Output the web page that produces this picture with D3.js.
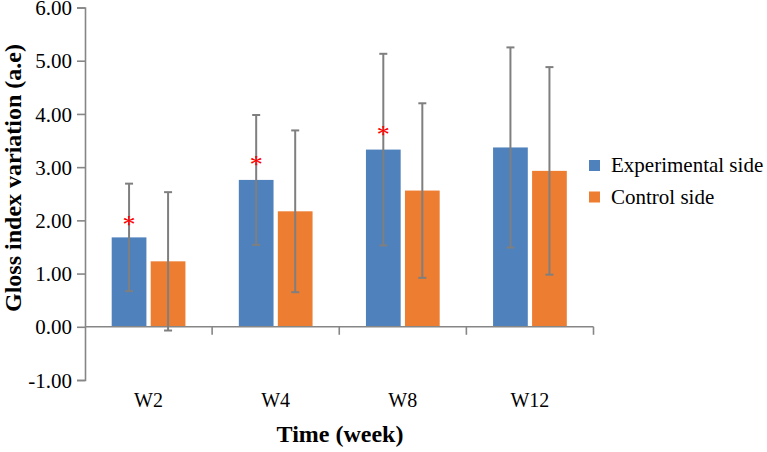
<!DOCTYPE html>
<html><head><meta charset="utf-8">
<script src="https://cdn.jsdelivr.net/npm/d3@7"></script>
<style>body{margin:0;background:#fff}svg{display:block}text{font-family:"Liberation Serif","Times New Roman",serif}</style>
</head><body>
<svg id="c" width="767" height="452"></svg>
<script>
const categories = ["W2","W4","W8","W12"];
const seriesNames = ["Experimental side","Control side"];
const experimental = [1.68, 2.76, 3.33, 3.37];
const experimentalErr = [1.01, 1.22, 1.80, 1.88];
const control = [1.23, 2.17, 2.56, 2.93];
const controlErr = [1.30, 1.52, 1.64, 1.95];
const significant = [true, true, true, false];
const starValues = [1.98, 3.12, 3.68, null];
const yTicks = [-1,0,1,2,3,4,5,6];
const colors = ["#4f81bd","#ed7d31"];

const svg = d3.select("#c");
const serif = "Liberation Serif, Times New Roman, serif";
const axisColor = "#868686";

const x0 = d3.scaleBand().domain(categories).range([85, 593.5]).paddingInner(0).paddingOuter(0);
const bw = x0.bandwidth();
const x1 = d3.scaleBand().domain(seriesNames).range([bw*0.21, bw*0.79]).paddingInner(0.11);
const y = d3.scaleLinear().domain([-1, 6]).range([380, 7.5]);

const data = categories.map((c,i)=>[
  {cat:c, s:seriesNames[0], v:experimental[i], e:experimentalErr[i], col:colors[0]},
  {cat:c, s:seriesNames[1], v:control[i], e:controlErr[i], col:colors[1]}
]).flat();

// bars
svg.append("g").selectAll("rect").data(data).join("rect")
  .attr("x", d=>x0(d.cat)+x1(d.s))
  .attr("y", d=>y(d.v))
  .attr("width", x1.bandwidth())
  .attr("height", d=>y(0)-y(d.v))
  .attr("fill", d=>d.col);

// y axis
const yAxis = d3.axisLeft(y).tickValues(yTicks).tickFormat(d=>d.toFixed(2)).tickSizeOuter(0).tickSize(8).tickPadding(5);
const gy = svg.append("g").attr("transform","translate(85,0)").call(yAxis);
gy.attr("font-family", null).attr("font-size", null);
gy.select(".domain").attr("stroke", axisColor).attr("stroke-width",1.6);
gy.selectAll(".tick line").attr("stroke", axisColor).attr("stroke-width",1.6);
gy.selectAll(".tick text").style("font-family", serif).style("font-size", "21px").attr("fill","#000").attr("dy","0.34em");

// x axis at zero
const bounds = categories.map(c=>x0(c)+bw);
const gx = svg.append("g");
gx.append("line").attr("x1",85).attr("x2",x0.range()[1]).attr("y1",y(0)).attr("y2",y(0))
  .attr("stroke",axisColor).attr("stroke-width",1.6);
gx.selectAll("line.t").data(bounds).join("line").attr("class","t")
  .attr("x1",d=>d).attr("x2",d=>d).attr("y1",y(0)).attr("y2",y(0)+8)
  .attr("stroke",axisColor).attr("stroke-width",1.6);

// error bars
const eg = svg.append("g").attr("stroke","#7f7f7f").attr("stroke-width",2);
data.forEach(d=>{
  const cx = x0(d.cat)+x1(d.s)+x1.bandwidth()/2;
  const t = y(d.v+d.e), b = y(d.v-d.e);
  eg.append("line").attr("x1",cx).attr("x2",cx).attr("y1",t).attr("y2",b);
  eg.append("line").attr("x1",cx-4).attr("x2",cx+4).attr("y1",t).attr("y2",t);
  eg.append("line").attr("x1",cx-4).attr("x2",cx+4).attr("y1",b).attr("y2",b);
});

// significance stars
categories.forEach((c,i)=>{
  if(!significant[i]) return;
  const cx = x0(c)+x1(seriesNames[0])+x1.bandwidth()/2;
  svg.append("text").attr("x",cx).attr("y",y(starValues[i])+12)
    .attr("text-anchor","middle").style("font-family",serif).style("font-size","26px")
    .attr("fill","#ff0000").text("*");
});

// category labels
svg.append("g").selectAll("text").data(categories).join("text")
  .attr("x", d=>x0(d)+bw/2).attr("y", 407).attr("text-anchor","middle")
  .style("font-family", serif).style("font-size","20px").attr("fill","#000").text(d=>d);

// axis titles
svg.append("text").attr("x",340).attr("y",442).attr("text-anchor","middle")
  .style("font-family",serif).style("font-size","24px").attr("font-weight","bold").text("Time (week)");
svg.append("text").attr("transform","translate(21,178) rotate(-90)").attr("text-anchor","middle")
  .style("font-family",serif).style("font-size","24px").attr("font-weight","bold").text("Gloss index variation (a.e)");

// legend
const lg = svg.append("g");
seriesNames.forEach((s,i)=>{
  const yy = 165.5 + i*31.5;
  lg.append("rect").attr("x",589).attr("y",yy-5.5).attr("width",11).attr("height",11).attr("fill",colors[i]);
  lg.append("text").attr("x",611).attr("y",yy+6.5).style("font-family",serif).style("font-size","21px").attr("fill","#000").text(s);
});
</script>
</body></html>
